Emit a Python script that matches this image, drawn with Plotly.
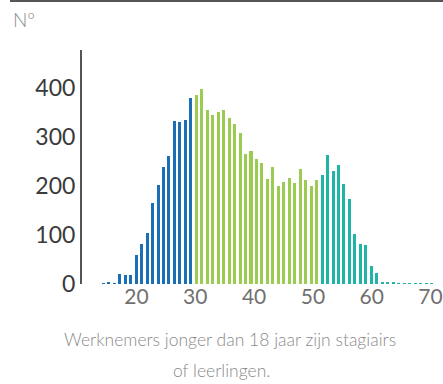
import plotly.graph_objects as go

# Headcount per age, split into three age groups
ages_young = list(range(13, 30))
counts_young = [1, 4, 2, 21, 19, 19, 60, 82, 105, 165, 203, 238, 261, 332, 330, 334, 379]

ages_mid = list(range(30, 53))
counts_mid = [385, 398, 356, 345, 350, 355, 339, 326, 309, 265, 271, 256, 246,
              215, 239, 201, 208, 217, 206, 234, 212, 200, 212]

ages_old = list(range(53, 74))
counts_old = [223, 263, 231, 242, 205, 174, 103, 82, 80, 36, 23, 5, 5, 3, 1,
              2, 2, 1, 1, 1, 1]

x_tick_labels = [20, 30, 40, 50, 60, 70]
y_tick_labels = [0, 100, 200, 300, 400]

COL_YOUNG = "#1c6fb6"
COL_MID = "#9ccb52"
COL_OLD = "#1fb4a6"
FONT = "Lato"

W, H = 443, 384
ML, MR, MT, MB = 82, 0, 50, 99.5
PW = W - ML - MR
PH = H - MT - MB

fig = go.Figure()
for ages, counts, col in [(ages_young, counts_young, COL_YOUNG),
                          (ages_mid, counts_mid, COL_MID),
                          (ages_old, counts_old, COL_OLD)]:
    fig.add_trace(go.Bar(x=ages, y=counts, width=0.55, marker_color=col,
                         marker_line_width=0, hoverinfo="skip", showlegend=False))

# carrier for the labelled age axis
fig.add_trace(go.Scatter(x=x_tick_labels, y=[0] * len(x_tick_labels), xaxis="x2",
                         mode="markers", marker=dict(opacity=0), hoverinfo="skip",
                         showlegend=False))

fig.update_layout(
    width=W, height=H,
    margin=dict(l=ML, r=MR, t=MT, b=MB, pad=0),
    paper_bgcolor="white", plot_bgcolor="white",
    font=dict(family=FONT),
    bargap=0,
    xaxis=dict(range=[9.106, 75.1], showticklabels=False, showline=False,
               showgrid=False, zeroline=False, ticks=""),
    xaxis2=dict(overlaying="x", anchor="y", side="bottom", range=[10.73, 72.13],
                tickvals=x_tick_labels, ticktext=[str(v) for v in x_tick_labels],
                ticks="", showline=False, showgrid=False, zeroline=False,
                ticklabelstandoff=-2,
                tickfont=dict(size=21, color="#707070", family=FONT, weight=400)),
    yaxis=dict(range=[0, 477.5], tickvals=y_tick_labels,
               ticktext=[str(v) for v in y_tick_labels], ticks="",
               showline=True, linecolor="#555555", linewidth=2,
               showgrid=False, zeroline=False, ticklabelstandoff=0,
               tickfont=dict(size=23, color="#3a3a3a", family=FONT, weight=400)),
)

def px_x(p):
    return (p - ML) / PW

def px_y(p):
    return (H - MB - p) / PH

# rule along the top edge
fig.add_shape(type="line", xref="paper", yref="paper",
              x0=px_x(10), x1=px_x(443), y0=px_y(1), y1=px_y(1),
              line=dict(color="#555555", width=2))

fig.add_annotation(text="Nº", xref="paper", yref="paper", x=px_x(11), y=px_y(6),
                   xanchor="left", yanchor="top", showarrow=False,
                   font=dict(size=19, color="#8a8a8a", family=FONT, weight=300))

fig.add_annotation(text="Werknemers jonger dan 18 jaar zijn stagiairs",
                   xref="paper", yref="paper", x=px_x(230), y=px_y(340),
                   xanchor="center", yanchor="middle", showarrow=False,
                   font=dict(size=17.5, color="#8a8a8a", family=FONT, weight=300))
fig.add_annotation(text="of leerlingen.",
                   xref="paper", yref="paper", x=px_x(221), y=px_y(371),
                   xanchor="center", yanchor="middle", showarrow=False,
                   font=dict(size=17.5, color="#8a8a8a", family=FONT, weight=300))

fig.write_html("out.html")
